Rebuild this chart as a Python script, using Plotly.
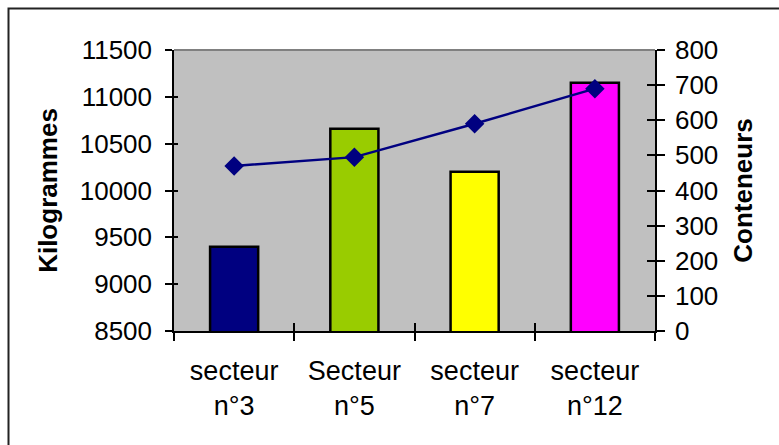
import plotly.graph_objects as go

# Data
secteurs = ["secteur<br>n°3", "Secteur<br>n°5", "secteur<br>n°7", "secteur<br>n°12"]
kilogrammes = [9400, 10660, 10200, 11150]
conteneurs = [470, 495, 590, 690]
bar_colors = ["#000080", "#99CC00", "#FFFF00", "#FF00FF"]

kg_ticks = [8500, 9000, 9500, 10000, 10500, 11000, 11500]
ct_ticks = [0, 100, 200, 300, 400, 500, 600, 700, 800]

W, H = 779, 445
ML, MR, MT, MB = 174, 124, 50, 114
PW, PH = W - ML - MR, H - MT - MB

FONT = "Liberation Sans, Arial, sans-serif"
TICK_FONT = dict(family=FONT, size=26, color="#000000")
TITLE_FONT = dict(family=FONT, size=26, color="#000000", weight="bold")

fig = go.Figure()

fig.add_trace(go.Bar(
    x=secteurs, y=kilogrammes, width=0.4,
    marker=dict(color=bar_colors, line=dict(color="#000000", width=2.5)),
    yaxis="y", showlegend=False, hoverinfo="x+y",
))

fig.add_trace(go.Scatter(
    x=secteurs, y=conteneurs, mode="lines+markers",
    line=dict(color="#000080", width=2.5),
    marker=dict(symbol="diamond", size=15, color="#000080"),
    yaxis="y2", showlegend=False,
))

# paper coordinates of the outer frame (pixels -> paper)
def px_x(px):
    return (px - ML) / PW

def px_y(py):
    return (H - MB - py) / PH

fig.update_layout(
    width=W, height=H,
    margin=dict(l=ML, r=MR, t=MT, b=MB, pad=0),
    paper_bgcolor="#FFFFFF",
    plot_bgcolor="#C0C0C0",
    bargap=0.6,
    xaxis=dict(
        type="category", tickson="boundaries", ticks="outside", ticklen=8,
        tickcolor="#000000", tickwidth=1.5,
        showline=True, linecolor="#000000", linewidth=1.5,
        tickfont=dict(family=FONT, size=27, color="#000000"),
        ticklabelstandoff=15,
        showgrid=False, zeroline=False,
    ),
    yaxis=dict(
        range=[8500, 11500], tickvals=kg_ticks,
        ticktext=[str(v) for v in kg_ticks],
        ticks="outside", ticklen=7,
        tickcolor="#000000", tickwidth=1.5,
        showline=True, linecolor="#000000", linewidth=1.5,
        tickfont=TICK_FONT, ticklabelstandoff=8,
        showgrid=False, zeroline=False,
        title=dict(text="Kilogrammes", font=TITLE_FONT, standoff=15),
    ),
    yaxis2=dict(
        range=[0, 800], tickvals=ct_ticks,
        ticktext=[str(v) for v in ct_ticks],
        overlaying="y", side="right",
        ticks="outside", ticklen=8, tickcolor="#000000", tickwidth=1.5,
        showline=True, linecolor="#000000", linewidth=1.5,
        tickfont=TICK_FONT, ticklabelstandoff=5,
        showgrid=False, zeroline=False,
        title=dict(text="Conteneurs", font=TITLE_FONT, standoff=16),
    ),
    # inner halves of the crossing tick marks
    yaxis3=dict(
        range=[8500, 11500], tickvals=kg_ticks, overlaying="y", side="left",
        ticks="inside", ticklen=4, tickcolor="#000000", tickwidth=1.5,
        showticklabels=False, showgrid=False, zeroline=False, showline=False,
    ),
    yaxis4=dict(
        range=[0, 800], tickvals=ct_ticks, overlaying="y", side="right",
        ticks="inside", ticklen=8, tickcolor="#000000", tickwidth=1.5,
        showticklabels=False, showgrid=False, zeroline=False, showline=False,
    ),
    xaxis2=dict(
        type="category", overlaying="x", side="bottom", tickson="boundaries",
        ticks="inside", ticklen=8, tickcolor="#000000", tickwidth=1.5,
        showticklabels=False, showgrid=False, zeroline=False, showline=False,
        categoryarray=secteurs, categoryorder="array", range=[-0.5, 3.5],
    ),
    shapes=[
        # top edge of plot area
        dict(type="line", xref="paper", yref="paper", x0=0, x1=1, y0=1, y1=1,
             line=dict(color="#808080", width=2), layer="above"),
        # outer chart frame
        dict(type="rect", xref="paper", yref="paper",
             x0=px_x(8.5), x1=px_x(800), y0=px_y(470), y1=px_y(8.5),
             line=dict(color="#222222", width=2), fillcolor="rgba(0,0,0,0)"),
    ],
)

# invisible traces to activate the helper axes
fig.add_trace(go.Scatter(x=secteurs, y=kilogrammes, yaxis="y3", mode="none",
                         showlegend=False, hoverinfo="skip"))
fig.add_trace(go.Scatter(x=secteurs, y=conteneurs, yaxis="y4", mode="none",
                         showlegend=False, hoverinfo="skip"))
fig.add_trace(go.Scatter(x=secteurs, y=conteneurs, xaxis="x2", yaxis="y2",
                         mode="none", showlegend=False, hoverinfo="skip"))

fig.write_html("out.html")
